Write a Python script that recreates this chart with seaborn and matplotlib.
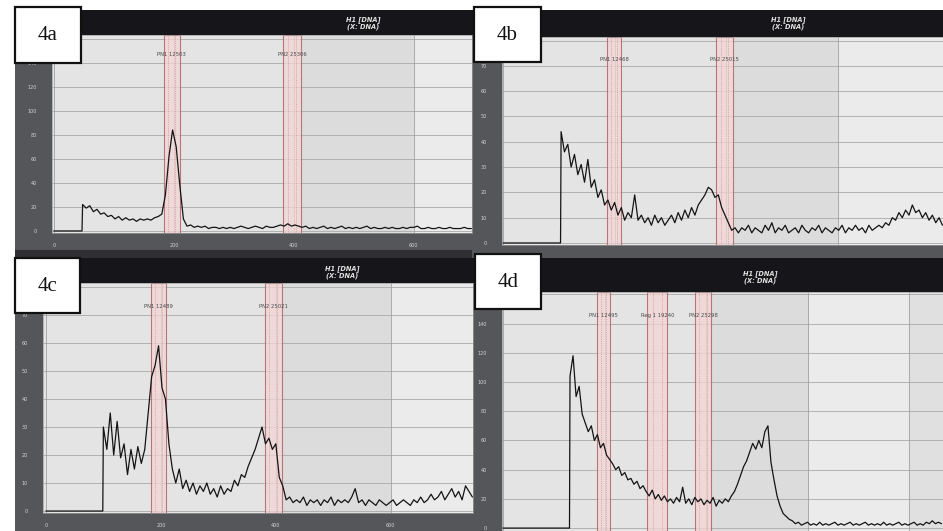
import numpy as np
import pandas as pd
import seaborn as sns
import matplotlib
matplotlib.use("Agg")
import matplotlib.pyplot as plt
from matplotlib.patches import Rectangle
from matplotlib.ticker import MultipleLocator

sns.set_theme(style="white")
plt.rcParams['font.family'] = ['DejaVu Sans']

W, H = 943, 531
STEP = 6  # channel spacing of the values below

######## data ########
start_a = 48
counts_a = [22, 19, 21, 16, 18, 14, 15, 12, 13, 10, 12, 9, 11, 9, 10, 8, 10, 9, 10, 9,
            11, 12, 14, 30, 62, 84, 70, 38, 10, 4, 5, 3, 4, 3, 4, 2, 3, 3, 2, 3,
            2, 3, 2, 3, 4, 3, 2, 3, 4, 3, 2, 4, 3, 3, 4, 5, 4, 6, 4, 5,
            4, 3, 4, 2, 3, 2, 3, 4, 2, 3, 2, 3, 4, 2, 3, 2, 3, 2, 3, 4,
            2, 3, 2, 2, 3, 2, 3, 2, 2, 3, 2, 3, 3, 4, 2, 2, 3, 2, 2, 3,
            2, 2, 3, 2, 2, 2, 3, 2, 2]
regions_a = [(183, 210), (382, 412)]
names_a = ["PN1 12503", "PN2 25306"]

start_b = 104
counts_b = [44, 36, 39, 30, 35, 27, 31, 24, 33, 22, 25, 18, 21, 15, 17, 13, 16, 11, 14, 9,
            12, 10, 19, 9, 11, 8, 10, 7, 11, 8, 10, 7, 9, 11, 8, 12, 9, 13, 10, 14,
            11, 15, 17, 19, 22, 21, 18, 19, 14, 11, 8, 5, 6, 4, 6, 5, 7, 4, 6, 5,
            4, 7, 5, 8, 4, 6, 5, 7, 4, 5, 6, 4, 7, 5, 4, 6, 5, 7, 4, 6,
            5, 4, 6, 5, 7, 4, 6, 5, 7, 5, 6, 4, 7, 5, 6, 7, 6, 8, 7, 10,
            9, 12, 10, 13, 11, 15, 12, 13, 10, 12, 9, 11, 8, 10, 7]
regions_b = [(186, 212), (382, 412)]
names_b = ["PN1 12468", "PN2 25015"]

start_c = 100
counts_c = [30, 22, 35, 20, 32, 19, 24, 13, 22, 15, 23, 17, 22, 35, 48, 52, 59, 44, 40, 24,
            15, 10, 15, 8, 11, 7, 10, 6, 9, 7, 10, 6, 8, 5, 9, 6, 8, 7, 11, 9,
            13, 12, 16, 19, 22, 26, 30, 24, 26, 22, 24, 12, 9, 4, 5, 3, 4, 3, 5, 2,
            4, 3, 4, 2, 4, 3, 5, 2, 4, 3, 4, 3, 5, 8, 3, 4, 2, 4, 3, 2,
            4, 3, 2, 3, 4, 2, 3, 4, 3, 2, 4, 3, 5, 3, 4, 6, 4, 5, 7, 4,
            6, 8, 5, 7, 4, 9, 7, 5]
regions_c = [(183, 209), (381, 410)]
names_c = ["PN1 12489", "PN2 25021"]

start_d = 132
counts_d = [104, 118, 90, 97, 78, 72, 66, 70, 60, 64, 55, 58, 50, 47, 44, 40, 42, 36, 38, 33,
            34, 30, 32, 27, 29, 25, 22, 26, 20, 23, 19, 22, 18, 20, 17, 21, 18, 28, 17, 20,
            16, 21, 18, 20, 16, 19, 17, 21, 15, 19, 17, 20, 18, 22, 25, 30, 36, 42, 46, 52,
            58, 54, 60, 55, 66, 70, 45, 33, 22, 15, 10, 8, 6, 5, 3, 4, 2, 3, 4, 2,
            3, 2, 4, 2, 3, 2, 3, 4, 2, 3, 2, 3, 4, 2, 3, 2, 3, 4, 2, 3,
            2, 3, 2, 4, 2, 3, 2, 3, 4, 2, 3, 2, 3, 4, 2, 3, 2, 4, 3, 5,
            3, 4, 3]
regions_d = [(186, 210), (284, 324), (378, 410)]
names_d = ["PN1 12495", "Reg 1 19240", "PN2 25298"]

#######################################################

# layout in pixels (x0, y0, x1, y1), y from the top
panels = [
    dict(tag="4a", start=start_a, counts=counts_a, regions=regions_a, names=names_a,
         frame=(15, 10, 472, 250), head=35, plot=(52, 35, 472, 233),
         xlim=(-3, 697), ylim=(-1.7, 163), ymaj=20, lab_y=145, hdr=(363, 23),
         box=(15, 7, 81, 63), shade=(412, 600), xlabels=True),
    dict(tag="4b", start=start_b, counts=counts_b, regions=regions_b, names=names_b,
         frame=(472, 10, 943, 258), head=37, plot=(502, 37, 943, 245),
         xlim=(-2, 789), ylim=(-0.8, 81.4), ymaj=10, lab_y=71.5, hdr=(788, 23),
         box=(474, 7, 541, 62), shade=(412, 600), xlabels=False),
    dict(tag="4c", start=start_c, counts=counts_c, regions=regions_c, names=names_c,
         frame=(15, 258, 475, 531), head=283, plot=(43, 283, 473, 513),
         xlim=(-5, 743), ylim=(-0.7, 81.4), ymaj=10, lab_y=72, hdr=(342, 272),
         box=(15, 258, 80, 313), shade=(410, 600), xlabels=True),
    dict(tag="4d", start=start_d, counts=counts_d, regions=regions_d, names=names_d,
         frame=(475, 258, 943, 531), head=292, plot=(502, 292, 943, 531),
         xlim=(-2, 867), ylim=(-2, 161.6), ymaj=20, lab_y=144, hdr=(760, 277),
         box=(475, 254, 541, 309), shade=(410, 600), xlabels=False),
]


def frac(r):
    x0, y0, x1, y1 = r
    return [x0 / W, 1 - y1 / H, (x1 - x0) / W, (y1 - y0) / H]


fig = plt.figure(figsize=(W / 100, H / 100), dpi=100)
fig.patch.set_facecolor("white")

bg = fig.add_axes([0, 0, 1, 1])
bg.set_xlim(0, W)
bg.set_ylim(H, 0)
bg.axis("off")
bg.add_patch(Rectangle((15, 10), W - 15, H - 10, color="#303034", lw=0))
for p in panels:
    x0, y0, x1, y1 = p["frame"]
    bg.add_patch(Rectangle((x0, y0), x1 - x0, y1 - y0, color="#55565a", lw=0))
    bg.add_patch(Rectangle((x0, y0), x1 - x0, p["head"] - y0, color="#16161a", lw=0))

for p in panels:
    ax = fig.add_axes(frac(p["plot"]))
    ax.set_facecolor("#e4e4e4")
    xs = np.arange(len(p["counts"])) * STEP + p["start"]
    df = pd.DataFrame({"channel": np.concatenate([[0, p["start"] - 1], xs]),
                       "count": np.concatenate([[0, 0], p["counts"]])})

    # background bands of the cytometer software
    ax.axvspan(p["shade"][0], p["shade"][1], color="#dcdcdc", lw=0, zorder=0.1)
    ax.axvspan(p["shade"][1], p["xlim"][1], color="#ebebeb", lw=0, zorder=0.1)
    if p["xlim"][1] > 800:
        ax.axvspan(800, p["xlim"][1], color="#e0e0e0", lw=0, zorder=0.1)

    for v in np.arange(0, p["ylim"][1], p["ymaj"]):
        ax.axhline(v, color="#a9a9a9", lw=0.6, zorder=0.5)
    for v in np.arange(0, p["xlim"][1], 200):
        ax.axvline(v, color="#a0a0a0", lw=0.6, zorder=0.5)

    for (lo, hi), name in zip(p["regions"], p["names"]):
        ax.axvspan(lo, hi, facecolor="#f3d4d4", alpha=0.75, edgecolor="#a85555",
                   lw=0.8, zorder=1.5)
        for f in (0.27, 0.72):
            ax.axvline(lo + (hi - lo) * f, color="#c98080", lw=0.5, ls=":", zorder=1.6)
        ax.text((lo + hi) / 2, p["lab_y"], name, fontsize=3.8, color="#4a4a4a",
                ha="center", va="bottom", zorder=4)

    sns.lineplot(data=df, x="channel", y="count", ax=ax, color="#141414",
                 linewidth=0.9, estimator=None, sort=False, zorder=3)

    ax.set_xlim(*p["xlim"])
    ax.set_ylim(*p["ylim"])
    ax.xaxis.set_major_locator(MultipleLocator(200))
    ax.xaxis.set_minor_locator(MultipleLocator(50))
    ax.yaxis.set_major_locator(MultipleLocator(p["ymaj"]))
    ax.yaxis.set_minor_locator(MultipleLocator(p["ymaj"] / 4))
    ax.set_xlabel("")
    ax.set_ylabel("")
    ax.tick_params(axis="both", which="both", direction="out", color="#a8a8a8",
                   labelcolor="#d4d4d4", labelsize=3.5, width=0.5)
    ax.tick_params(axis="both", which="major", length=3)
    ax.tick_params(axis="both", which="minor", length=1.5)
    ax.tick_params(axis="y", which="major", pad=8)
    ax.tick_params(axis="x", which="major", pad=4, labelbottom=p["xlabels"])
    for s in ax.spines.values():
        s.set_color("#9c9c9c")
        s.set_linewidth(0.5)

top = fig.add_axes([0, 0, 1, 1])
top.set_xlim(0, W)
top.set_ylim(H, 0)
top.axis("off")
top.patch.set_alpha(0)
for p in panels:
    hx, hy = p["hdr"]
    top.text(hx, hy, "H1 [DNA]\n(X: DNA)", fontsize=4.8, style="italic",
             weight="bold", color="#e0e0e0", ha="center", va="center",
             linespacing=1.0)
    x0, y0, x1, y1 = p["box"]
    top.add_patch(Rectangle((x0, y0), x1 - x0, y1 - y0, facecolor="white",
                            edgecolor="#111111", lw=1.6))
    top.text((x0 + x1) / 2, (y0 + y1) / 2 + 1, p["tag"], fontsize=15,
             family=["Liberation Serif", "DejaVu Serif"], color="#111111",
             ha="center", va="center")

fig.savefig("out.png", dpi=100)
